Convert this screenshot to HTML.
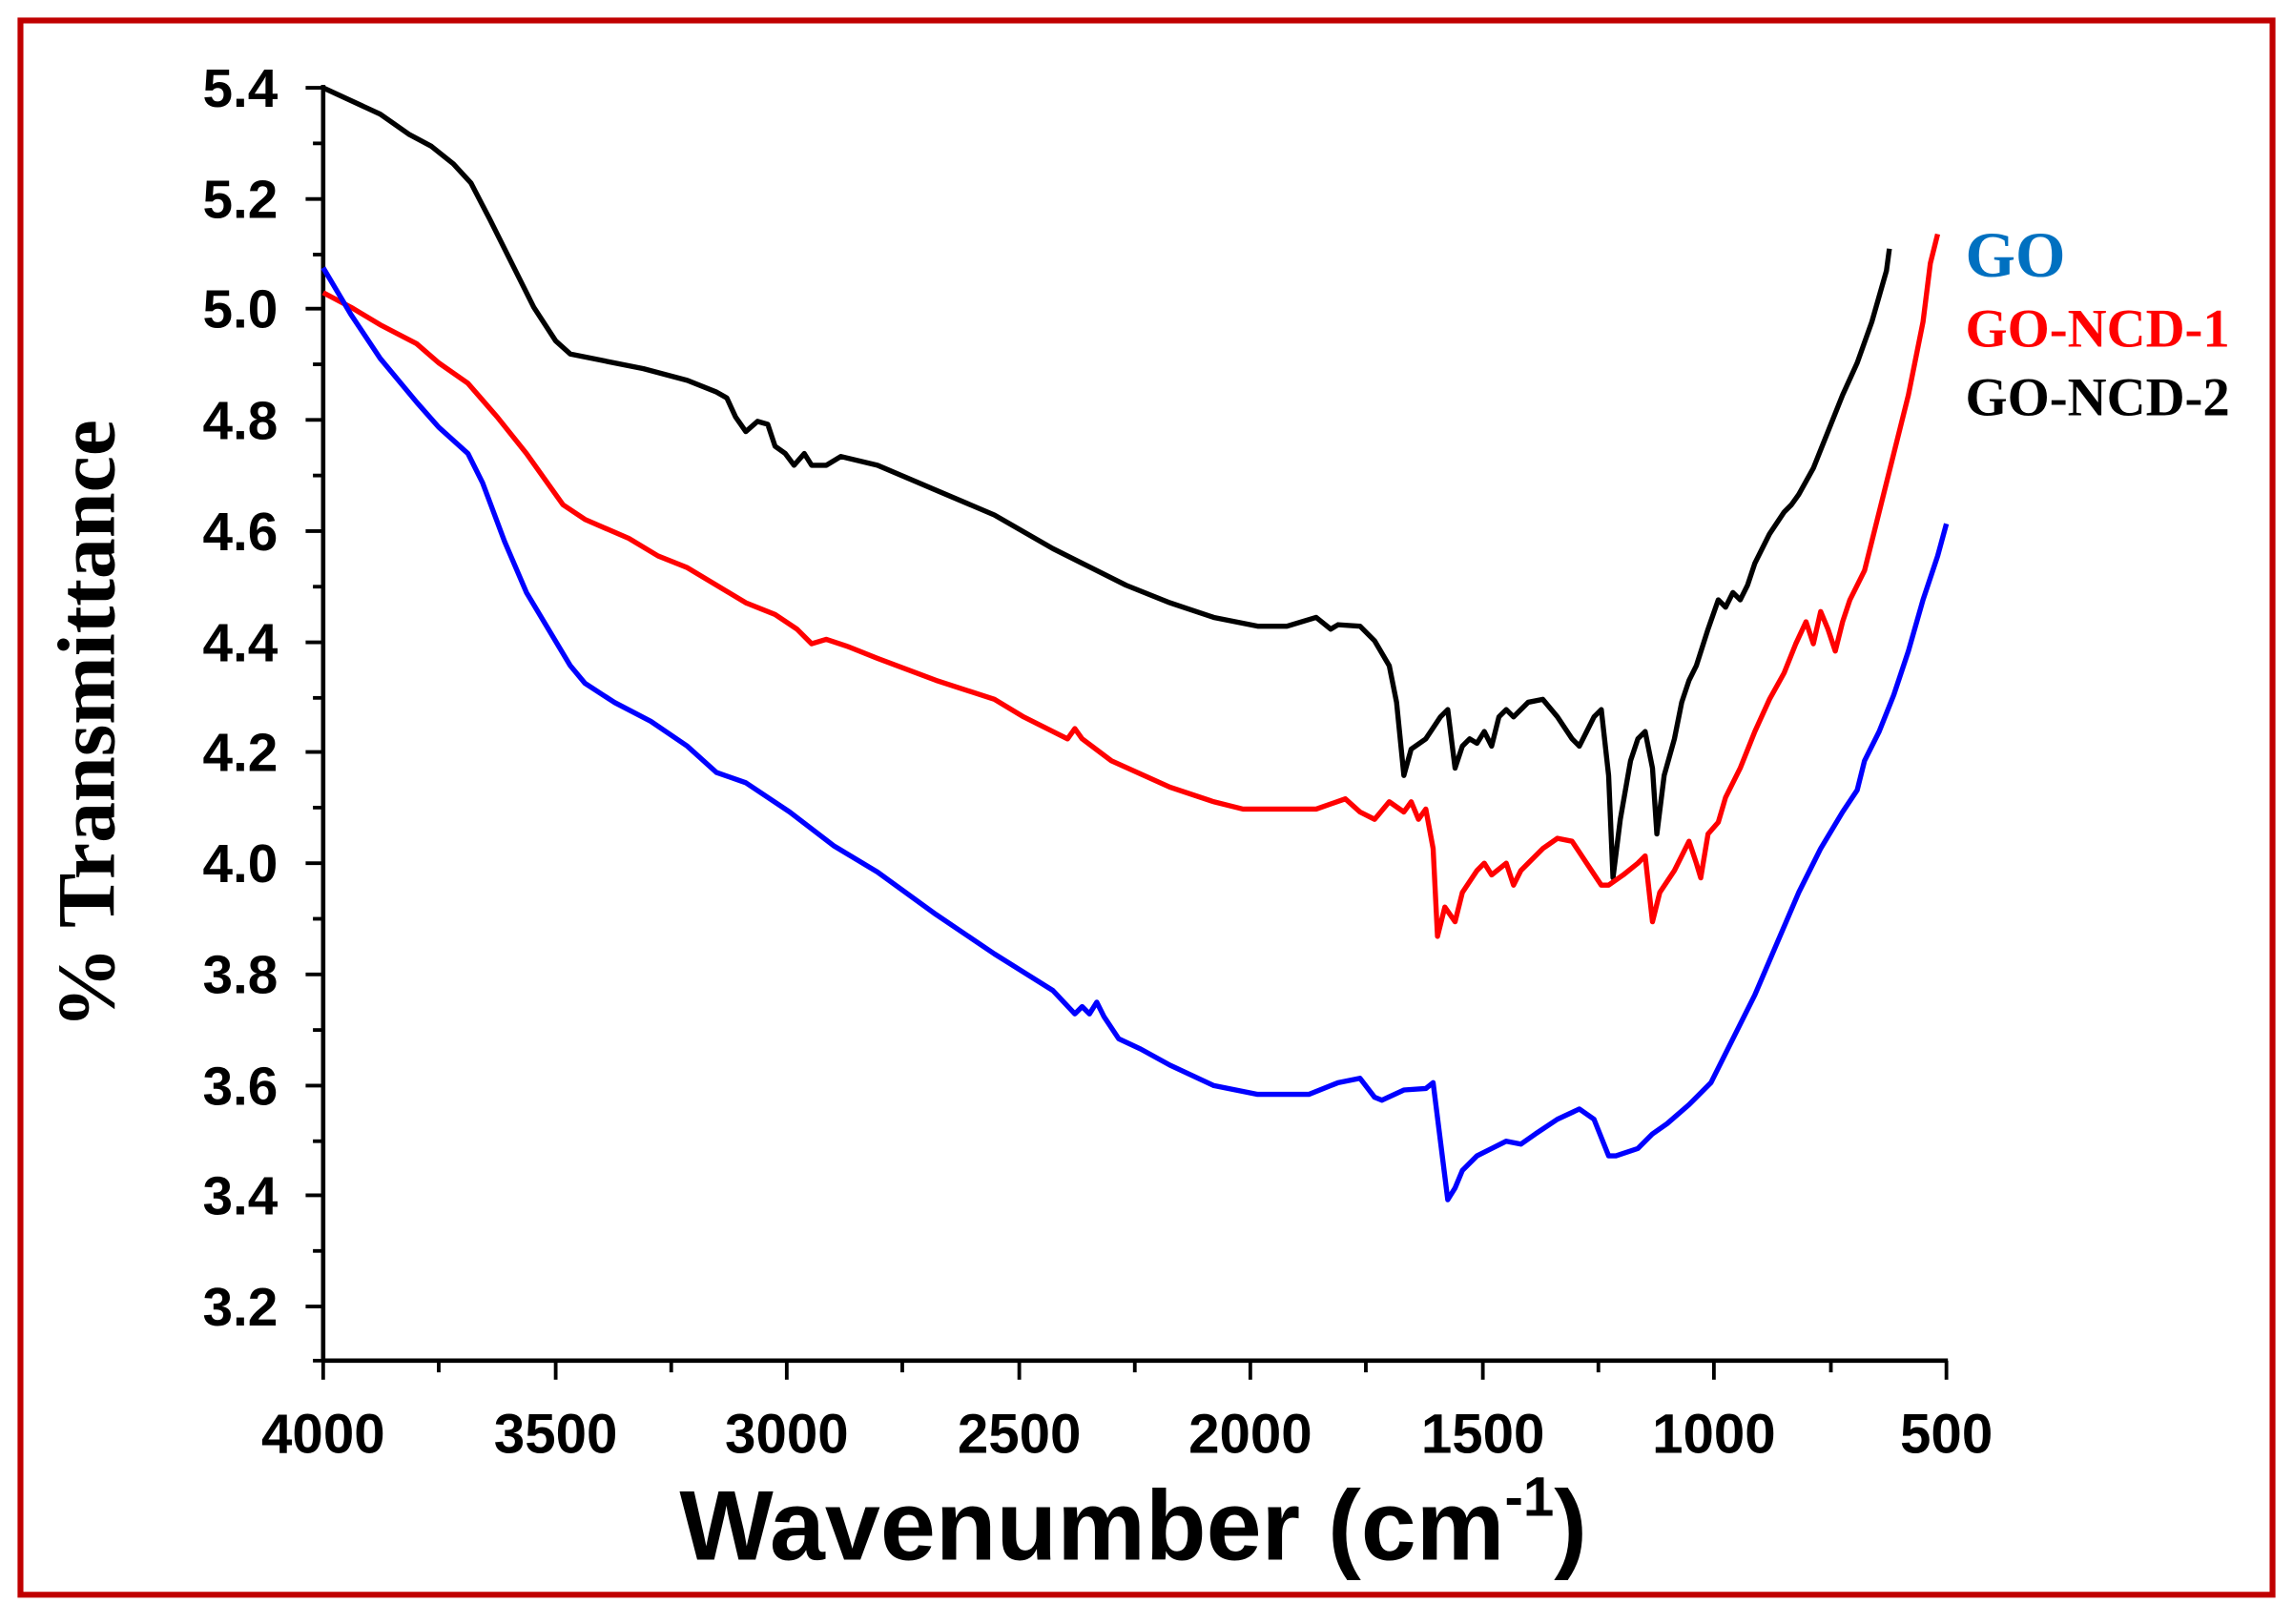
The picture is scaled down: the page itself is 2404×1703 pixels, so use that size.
<!DOCTYPE html>
<html><head><meta charset="utf-8"><style>
html,body{margin:0;padding:0;background:#fff}
svg{display:block}
</style></head><body>
<svg width="2404" height="1703" viewBox="0 0 1568 1110" preserveAspectRatio="none" xmlns="http://www.w3.org/2000/svg">
<rect x="0" y="0" width="1568" height="1110" fill="#fff"/>
<rect x="14" y="14" width="1540" height="1076" fill="none" stroke="#c00000" stroke-width="4"/>
<g stroke="#000" stroke-width="3" fill="none">
<line x1="221" y1="58" x2="221" y2="931"/>
<line x1="220" y1="930" x2="1332" y2="930"/>
</g>
<g stroke="#000" stroke-width="2.5">
<line x1="209" y1="60" x2="221" y2="60"/><line x1="209" y1="136" x2="221" y2="136"/><line x1="209" y1="211" x2="221" y2="211"/><line x1="209" y1="287" x2="221" y2="287"/><line x1="209" y1="363" x2="221" y2="363"/><line x1="209" y1="439" x2="221" y2="439"/><line x1="209" y1="514" x2="221" y2="514"/><line x1="209" y1="590" x2="221" y2="590"/><line x1="209" y1="666" x2="221" y2="666"/><line x1="209" y1="742" x2="221" y2="742"/><line x1="209" y1="817" x2="221" y2="817"/><line x1="209" y1="893" x2="221" y2="893"/>
<line x1="214" y1="98" x2="221" y2="98"/><line x1="214" y1="174" x2="221" y2="174"/><line x1="214" y1="249" x2="221" y2="249"/><line x1="214" y1="325" x2="221" y2="325"/><line x1="214" y1="401" x2="221" y2="401"/><line x1="214" y1="477" x2="221" y2="477"/><line x1="214" y1="552" x2="221" y2="552"/><line x1="214" y1="628" x2="221" y2="628"/><line x1="214" y1="704" x2="221" y2="704"/><line x1="214" y1="780" x2="221" y2="780"/><line x1="214" y1="855" x2="221" y2="855"/><line x1="214" y1="930" x2="221" y2="930"/>
<line x1="221" y1="930" x2="221" y2="943"/><line x1="380" y1="930" x2="380" y2="943"/><line x1="538" y1="930" x2="538" y2="943"/><line x1="697" y1="930" x2="697" y2="943"/><line x1="855" y1="930" x2="855" y2="943"/><line x1="1014" y1="930" x2="1014" y2="943"/><line x1="1172" y1="930" x2="1172" y2="943"/><line x1="1331" y1="930" x2="1331" y2="943"/>
<line x1="300" y1="930" x2="300" y2="938"/><line x1="459" y1="930" x2="459" y2="938"/><line x1="617" y1="930" x2="617" y2="938"/><line x1="776" y1="930" x2="776" y2="938"/><line x1="934" y1="930" x2="934" y2="938"/><line x1="1093" y1="930" x2="1093" y2="938"/><line x1="1252" y1="930" x2="1252" y2="938"/>
</g>
<g font-family="Liberation Sans, Arial, sans-serif" font-weight="bold" font-size="37" fill="#000" text-anchor="end">
<text x="190" y="73">5.4</text><text x="190" y="149">5.2</text><text x="190" y="224">5.0</text><text x="190" y="300">4.8</text><text x="190" y="376">4.6</text><text x="190" y="452">4.4</text><text x="190" y="527">4.2</text><text x="190" y="603">4.0</text><text x="190" y="679">3.8</text><text x="190" y="755">3.6</text><text x="190" y="830">3.4</text><text x="190" y="906">3.2</text>
</g>
<g font-family="Liberation Sans, Arial, sans-serif" font-weight="bold" font-size="38" fill="#000" text-anchor="middle">
<text x="221" y="993">4000</text><text x="380" y="993">3500</text><text x="538" y="993">3000</text><text x="697" y="993">2500</text><text x="855" y="993">2000</text><text x="1014" y="993">1500</text><text x="1172" y="993">1000</text><text x="1331" y="993">500</text>
</g>
<text x="775" y="1066" text-anchor="middle" font-family="Liberation Sans, Arial, sans-serif" font-weight="bold" font-size="68">Wavenumber (cm<tspan dy="-30" font-size="38">-1</tspan><tspan dy="30">)</tspan></text>
<text transform="translate(78,495) rotate(-90)" text-anchor="middle" font-family="Liberation Serif, serif" font-weight="bold" font-size="56">% Transmittance</text>
<g font-family="Liberation Serif, serif" font-weight="bold">
<text x="1344" y="189" font-size="44" fill="#0070c0">GO</text>
<text x="1344" y="237" font-size="37" fill="#ff0000">GO-NCD-1</text>
<text x="1344" y="284" font-size="37" fill="#000">GO-NCD-2</text>
</g>
<g fill="none" stroke-width="3.5" stroke-linejoin="round">
<polyline stroke="#000" points="221,60 260,78 280,92 295,100 310,112 322,125 335,150 350,180 365,210 380,233 390,242 410,246 440,252 470,260 490,268 497,272 503,285 510,295 518,288 525,290 530,305 537,310 543,318 550,310 555,318 565,318 575,312 600,318 640,335 680,352 720,375 740,385 770,400 800,412 830,422 860,428 880,428 900,422 910,430 915,427 930,428 940,438 950,455 955,480 960,530 965,512 975,505 985,490 990,485 995,525 1000,510 1005,505 1010,508 1015,500 1020,510 1025,490 1030,485 1035,490 1045,480 1055,478 1065,490 1075,505 1080,510 1085,500 1090,490 1095,485 1100,530 1103,600 1108,560 1115,520 1120,505 1125,500 1130,525 1133,570 1138,530 1145,505 1150,480 1155,465 1160,455 1168,430 1175,410 1180,415 1185,405 1190,410 1195,400 1200,385 1210,365 1220,350 1225,345 1230,338 1240,320 1250,295 1260,270 1270,248 1280,220 1290,185 1292,170"/>
<polyline stroke="#ff0000" points="221,200 240,210 260,222 285,235 300,248 320,262 340,285 360,310 385,345 400,355 430,368 450,380 470,388 490,400 510,412 530,420 545,430 555,440 565,437 580,442 600,450 640,465 680,478 700,490 720,500 730,505 735,498 740,505 760,520 800,538 830,548 850,553 900,553 920,546 930,555 940,560 950,548 960,555 965,548 970,560 975,553 980,580 983,640 988,620 995,630 1000,610 1010,595 1015,590 1020,598 1030,590 1035,605 1040,595 1045,590 1055,580 1065,573 1075,575 1085,590 1095,605 1100,605 1110,598 1120,590 1125,585 1130,630 1135,610 1145,595 1155,575 1160,590 1163,600 1168,570 1175,562 1180,545 1190,525 1200,500 1210,478 1220,460 1228,440 1235,425 1240,440 1245,418 1250,430 1255,445 1260,425 1265,410 1275,390 1285,350 1295,310 1305,270 1315,220 1320,180 1325,160"/>
<polyline stroke="#0000ff" points="221,183 240,215 260,245 285,275 300,292 320,310 330,330 345,370 360,405 375,430 390,455 400,467 420,480 445,493 470,510 490,528 510,535 540,555 570,578 600,596 640,625 680,652 720,677 735,693 740,688 745,693 750,685 755,695 765,710 780,717 800,728 830,742 860,748 895,748 915,740 930,737 940,750 945,752 960,745 975,744 980,740 985,780 990,820 995,812 1000,800 1010,790 1020,785 1030,780 1040,782 1050,775 1065,765 1080,758 1090,765 1100,790 1105,790 1120,785 1130,775 1140,768 1155,755 1170,740 1185,710 1200,680 1215,645 1230,610 1245,580 1260,555 1270,540 1275,520 1285,500 1295,475 1305,445 1315,410 1325,380 1331,358"/>
</g>
</svg>
</body></html>
